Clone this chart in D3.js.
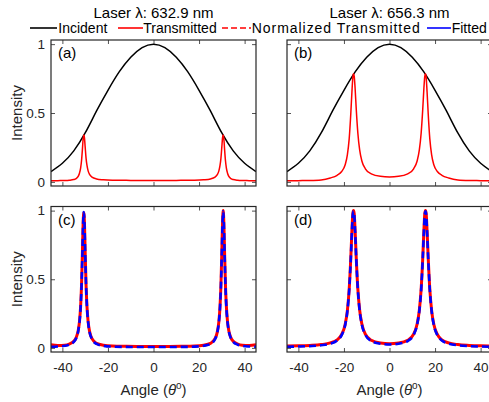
<!DOCTYPE html>
<html>
<head>
<meta charset="utf-8">
<script src="https://cdn.jsdelivr.net/npm/d3@7"></script>
<style>
	body { margin: 0; background: #fff; }
	svg { display: block; font-family: "Liberation Sans", Arial, sans-serif; }
</style>
</head>
<body>
<div id="data-viz"></div>
<script>

// text
const titles = ["Laser λ: 632.9 nm", "Laser λ: 656.3 nm"]
const legendLabels = ["Incident", "Transmitted", "Normalized Transmitted", "Fitted"]
const panelLabels = [["(a)", "(b)"], ["(c)", "(d)"]]
const xTicks = [-40, -20, 0, 20, 40]
const yTicks = [0, 0.5, 1]

// incident beam profile (same for both lasers)
const incTheta = [-45, -40, -35, -30, -25, -20, -15, -10, -5, 0, 5, 10, 15, 20, 25, 30, 35, 40, 45]
const incident = [0.075, 0.135, 0.225, 0.355, 0.515, 0.665, 0.80, 0.905, 0.975, 1.0, 0.975, 0.905, 0.80, 0.665, 0.515, 0.355, 0.225, 0.135, 0.075]

// 632.9 nm
const thetaA = [-45, -42, -39, -37, -35, -34, -33, -32.5, -32, -31.6, -31.2, -30.9, -30.6, -30.3, -30, -29.6, -29.2, -28.7, -28, -27, -25, -22, -18, -12, -6,
	0,
	6, 12, 18, 22, 25, 27, 28, 28.7, 29.2, 29.6, 30, 30.3, 30.6, 30.9, 31.2, 31.6, 32, 32.5, 33, 34, 35, 37, 39, 42, 45]
const transA = [0.008, 0.009, 0.010, 0.012, 0.017, 0.024, 0.042, 0.063, 0.100, 0.153, 0.238, 0.311, 0.340, 0.318, 0.254, 0.171, 0.119, 0.080, 0.052, 0.034, 0.021, 0.015, 0.012, 0.011, 0.010,
	0.010,
	0.010, 0.011, 0.012, 0.015, 0.021, 0.034, 0.052, 0.080, 0.119, 0.171, 0.254, 0.318, 0.340, 0.311, 0.238, 0.153, 0.100, 0.063, 0.042, 0.024, 0.017, 0.012, 0.010, 0.009, 0.008]
const normA = [0.022, 0.018, 0.020, 0.028, 0.048, 0.073, 0.131, 0.191, 0.300, 0.455, 0.700, 0.905, 0.985, 0.905, 0.700, 0.455, 0.300, 0.191, 0.115, 0.067, 0.033, 0.019, 0.013, 0.011, 0.010,
	0.010,
	0.010, 0.011, 0.013, 0.019, 0.033, 0.067, 0.115, 0.191, 0.300, 0.455, 0.700, 0.905, 1.0, 0.905, 0.700, 0.455, 0.300, 0.191, 0.131, 0.073, 0.048, 0.028, 0.020, 0.018, 0.022]
const fitA = [0.008, 0.010, 0.015, 0.023, 0.044, 0.069, 0.127, 0.187, 0.296, 0.451, 0.696, 0.904, 0.99, 0.904, 0.696, 0.451, 0.296, 0.187, 0.111, 0.063, 0.029, 0.015, 0.009, 0.007, 0.006,
	0.006,
	0.006, 0.007, 0.009, 0.015, 0.029, 0.063, 0.111, 0.187, 0.296, 0.451, 0.696, 0.904, 0.995, 0.904, 0.696, 0.451, 0.296, 0.187, 0.127, 0.069, 0.044, 0.023, 0.015, 0.010, 0.008]

// 656.3 nm
const thetaB = [-45, -40, -35, -30, -26, -23, -21, -19.5, -18.5, -17.7, -17, -16.5, -16.1, -15.8, -15.5, -15.1, -14.6, -13.9, -13.1, -12.1, -10.6, -8, -4,
	0,
	4, 8, 10.6, 12.1, 13.1, 13.9, 14.6, 15.1, 15.5, 15.8, 16.1, 16.5, 17, 17.7, 18.5, 19.5, 21, 23, 26, 30, 35, 40, 45]
const transB = [0.008, 0.009, 0.010, 0.014, 0.028, 0.048, 0.075, 0.122, 0.196, 0.312, 0.493, 0.652, 0.758, 0.785, 0.768, 0.680, 0.529, 0.355, 0.232, 0.150, 0.095, 0.058, 0.040,
	0.036,
	0.040, 0.058, 0.095, 0.150, 0.232, 0.355, 0.529, 0.680, 0.768, 0.785, 0.758, 0.652, 0.493, 0.312, 0.196, 0.122, 0.075, 0.048, 0.028, 0.014, 0.010, 0.009, 0.008]
const normB = [0.014, 0.015, 0.018, 0.024, 0.036, 0.059, 0.098, 0.169, 0.272, 0.427, 0.652, 0.852, 0.978, 1.0, 0.978, 0.855, 0.655, 0.430, 0.275, 0.172, 0.100, 0.055, 0.035,
	0.030,
	0.035, 0.055, 0.100, 0.172, 0.275, 0.430, 0.655, 0.855, 0.978, 1.0, 0.978, 0.852, 0.652, 0.427, 0.272, 0.169, 0.098, 0.059, 0.036, 0.024, 0.018, 0.015, 0.014]
const fitB = [0.008, 0.010, 0.013, 0.019, 0.031, 0.054, 0.093, 0.164, 0.267, 0.422, 0.647, 0.847, 0.973, 0.995, 0.973, 0.850, 0.650, 0.425, 0.270, 0.167, 0.095, 0.050, 0.030,
	0.025,
	0.030, 0.050, 0.095, 0.167, 0.270, 0.425, 0.650, 0.850, 0.973, 0.995, 0.973, 0.847, 0.647, 0.422, 0.267, 0.164, 0.093, 0.054, 0.031, 0.019, 0.013, 0.010, 0.008]

var app = {

	settings: {},

	init: () => {

		app.settings.width = 489
		app.settings.height = 402

		app.settings.cols = [[51, 256], [287, 492]]
		app.settings.rows = [[40, 186], [206.5, 352]]

		app.settings.axisColor = "#262626"

		app.svg = d3.select("#data-viz").append("svg")
			.attr("width", app.settings.width)
			.attr("height", app.settings.height)

		app.header()

		app.panels()

	},

	header: () => {

		titles.forEach((t, i) => {
			let c = app.settings.cols[i]
			app.svg.append("text")
				.attr("x", (c[0] + c[1]) / 2)
				.attr("y", 18)
				.attr("text-anchor", "middle")
				.attr("font-size", 15)
				.attr("fill", "#000")
				.text(t)
		})

		// legend: [line start, line end, text x, colour, dashed]
		var items = [
			[30, 57, 58.3, "#000", false],
			[118, 143, 143.3, "#f00", false],
			[222, 251, 251.7, "#f00", true],
			[427, 451, 451.7, "#00f", false]
		]

		var ly = 28

		items.forEach((d, i) => {

			app.svg.append("line")
				.attr("x1", d[0]).attr("x2", d[1])
				.attr("y1", ly).attr("y2", ly)
				.attr("stroke", d[3])
				.attr("stroke-width", 1.6)
				.attr("stroke-dasharray", d[4] ? "6,3" : null)

			var txt = app.svg.append("text")
				.attr("x", d[2])
				.attr("y", ly + 5)
				.attr("font-size", 14)
				.attr("fill", "#000")
				.text(legendLabels[i])

			if (i == 2) txt.attr("textLength", 168).attr("lengthAdjust", "spacing")

		})

	},

	panels: () => {

		var series = [
			[ // top row
				{ lines: [
					{ x: incTheta, y: incident, color: "#000", w: 1.5, curve: d3.curveNatural },
					{ x: thetaA, y: transA, color: "#f00", w: 1.5, curve: d3.curveMonotoneX }
				]},
				{ lines: [
					{ x: incTheta, y: incident, color: "#000", w: 1.5, curve: d3.curveNatural },
					{ x: thetaB, y: transB, color: "#f00", w: 1.5, curve: d3.curveMonotoneX }
				]}
			],
			[ // bottom row
				{ lines: [
					{ x: thetaA, y: normA, color: "#f00", w: 3, curve: d3.curveMonotoneX },
					{ x: thetaA, y: fitA, color: "#00f", w: 2.6, dash: "7,4", curve: d3.curveMonotoneX }
				]},
				{ lines: [
					{ x: thetaB, y: normB, color: "#f00", w: 3, curve: d3.curveMonotoneX },
					{ x: thetaB, y: fitB, color: "#00f", w: 2.6, dash: "7,4", curve: d3.curveMonotoneX }
				]}
			]
		]

		series.forEach((row, r) => {
			row.forEach((panel, c) => {
				app.drawPanel(r, c, panel)
			})
		})

	},

	drawPanel: (r, c, panel) => {

		var cx = app.settings.cols[c],
			cy = app.settings.rows[r],
			col = app.settings.axisColor

		var x = d3.scaleLinear().domain([-45, 45]).range(cx)
		var y = d3.scaleLinear().domain([-0.03, 1.03]).range([cy[1], cy[0]])

		var g = app.svg.append("g")

		var id = "clip-" + r + "-" + c

		g.append("clipPath").attr("id", id)
			.append("rect")
			.attr("x", cx[0]).attr("y", cy[0])
			.attr("width", cx[1] - cx[0]).attr("height", cy[1] - cy[0])

		var plot = g.append("g").attr("clip-path", "url(#" + id + ")")

		panel.lines.forEach((s) => {

			var line = d3.line()
				.x((d, i) => x(s.x[i]))
				.y((d) => y(d))
				.curve(s.curve)

			plot.append("path")
				.datum(s.y)
				.attr("d", line)
				.attr("fill", "none")
				.attr("stroke", s.color)
				.attr("stroke-width", s.w)
				.attr("stroke-dasharray", s.dash || null)

		})

		// axes, ticks pointing in on all four sides
		var bottom = d3.axisBottom(x).tickValues(xTicks).tickSizeInner(-4).tickSizeOuter(0).tickPadding(10)
			.tickFormat(r == 1 ? (d) => String(d) : "")
		var top = d3.axisTop(x).tickValues(xTicks).tickSizeInner(-4).tickSizeOuter(0).tickFormat("")
		var left = d3.axisLeft(y).tickValues(yTicks).tickSizeInner(-4).tickSizeOuter(0).tickPadding(6)
			.tickFormat(c == 0 ? (d) => String(d) : "")
		var right = d3.axisRight(y).tickValues(yTicks).tickSizeInner(-4).tickSizeOuter(0).tickFormat("")

		var axes = [
			[bottom, "translate(0," + cy[1] + ")"],
			[top, "translate(0," + cy[0] + ")"],
			[left, "translate(" + cx[0] + ",0)"],
			[right, "translate(" + cx[1] + ",0)"]
		]

		axes.forEach((a) => {
			var ag = g.append("g").attr("transform", a[1]).call(a[0])
			ag.select(".domain").remove()
			ag.selectAll("line").attr("stroke", col).attr("stroke-width", 0.8)
			ag.selectAll("text").attr("fill", col).attr("font-size", 13.5)
				.attr("font-family", "Liberation Sans, Arial, sans-serif")
		})

		g.append("rect")
			.attr("x", cx[0]).attr("y", cy[0])
			.attr("width", cx[1] - cx[0]).attr("height", cy[1] - cy[0])
			.attr("fill", "none")
			.attr("stroke", col)
			.attr("stroke-width", 1.2)

		g.append("text")
			.attr("x", cx[0] + 7)
			.attr("y", cy[0] + 18)
			.attr("font-size", 15)
			.attr("fill", "#000")
			.text(panelLabels[r][c])

		if (c == 0) {
			g.append("text")
				.attr("transform", "translate(22," + ((cy[0] + cy[1]) / 2) + ") rotate(-90)")
				.attr("text-anchor", "middle")
				.attr("font-size", 15)
				.attr("fill", col)
				.text("Intensity")
		}

		if (r == 1) {
			var lab = g.append("text")
				.attr("x", (cx[0] + cx[1]) / 2)
				.attr("y", 395)
				.attr("text-anchor", "middle")
				.attr("font-size", 15)
				.attr("fill", col)
			lab.append("tspan").text("Angle (")
			lab.append("tspan").attr("font-style", "italic").text("θ")
			lab.append("tspan").attr("font-size", 10).attr("dy", -6).text("o")
			lab.append("tspan").attr("dy", 6).text(")")
		}

	}

}

app.init()

</script>
</body>
</html>
